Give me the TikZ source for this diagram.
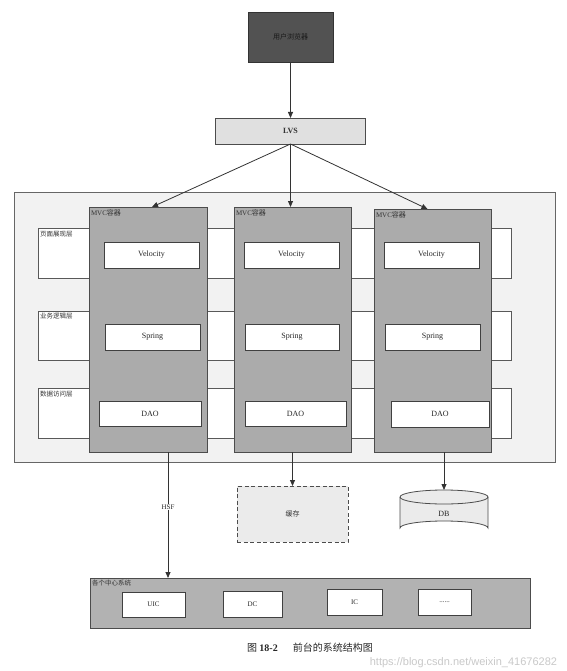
\documentclass[tikz,border=0pt]{standalone}
\usepackage{fontspec}
\setmainfont{Liberation Serif}
\newfontfamily\cjk{Noto Sans CJK SC}
\newfontfamily\wmfont{Liberation Sans}
\usetikzlibrary{arrows.meta,calc}
\begin{document}
\begin{tikzpicture}[x=1pt,y=-1pt,
  every node/.style={inner sep=0pt,outer sep=0pt},
  arr/.style={draw=black!80,line width=0.8pt,-{Triangle[length=6pt,width=5pt]}},
  whitebox/.style={draw=black!75,line width=0.8pt,fill=white,font=\fontsize{8}{9}\selectfont,text=black!85},
  layerbox/.style={draw=black!65,line width=0.7pt,fill=white},
  mvcbox/.style={draw=black!70,line width=0.8pt,fill=black!33},
  lbl/.style={font=\cjk\fontsize{6.5}{7}\selectfont,text=black!80,anchor=north west}
]
\useasboundingbox (0,0) rectangle (566,671);
\fill[white] (0,0) rectangle (566,671);

% top
\node[draw=black!80,line width=0.8pt,fill=black!68,minimum width=85pt,minimum height=50pt,font=\cjk\fontsize{7}{8}\selectfont,text=black!90] (browser) at (290.5,37) {用户浏览器};
\node[draw=black!70,line width=0.8pt,fill=black!12,minimum width=150pt,minimum height=26pt,font=\fontsize{8}{9}\selectfont\bfseries,text=black!80] (lvs) at (290.5,131) {LVS};
\draw[arr] (browser.south) -- (lvs.north);

% outer container
\node[draw=black!60,line width=0.8pt,fill=black!5,minimum width=541pt,minimum height=270pt] (outer) at (284.5,327) {};

% layer boxes
\node[layerbox,minimum width=473pt,minimum height=50pt] (layer1) at (274.5,253) {};
\node[layerbox,minimum width=473pt,minimum height=49pt] (layer2) at (274.5,335.5) {};
\node[layerbox,minimum width=473pt,minimum height=50pt] (layer3) at (274.5,413) {};
\node[lbl] (l1) at (40,231) {页面展现层};
\node[lbl] (l2) at (40,313) {业务逻辑层};
\node[lbl] (l3) at (40,391) {数据访问层};

% MVC containers
\node[mvcbox,minimum width=118pt,minimum height=245pt] (mvc1) at (148,329.5) {};
\node[mvcbox,minimum width=117pt,minimum height=245pt] (mvc2) at (292.5,329.5) {};
\node[mvcbox,minimum width=117pt,minimum height=243pt] (mvc3) at (432.5,330.5) {};
\node[lbl,font=\fontsize{7}{8}\selectfont] (m1) at ($(mvc1.north west)+(2,3)$) {MVC{\cjk 容器}};
\node[lbl,font=\fontsize{7}{8}\selectfont] (m2) at ($(mvc2.north west)+(2,3)$) {MVC{\cjk 容器}};
\node[lbl,font=\fontsize{7}{8}\selectfont] (m3) at ($(mvc3.north west)+(2,3)$) {MVC{\cjk 容器}};

\node[whitebox,minimum width=95pt,minimum height=26pt] (v1) at (151.5,255) {Velocity};
\node[whitebox,minimum width=95pt,minimum height=26pt] (s1) at (152.5,337) {Spring};
\node[whitebox,minimum width=102pt,minimum height=25pt] (d1) at (150,413.5) {DAO};
\node[whitebox,minimum width=95pt,minimum height=26pt] (v2) at (291.5,255) {Velocity};
\node[whitebox,minimum width=94pt,minimum height=26pt] (s2) at (292,337) {Spring};
\node[whitebox,minimum width=101pt,minimum height=25pt] (d2) at (295.5,413.5) {DAO};
\node[whitebox,minimum width=95pt,minimum height=26pt] (v3) at (431.5,255) {Velocity};
\node[whitebox,minimum width=95pt,minimum height=26pt] (s3) at (432.5,337) {Spring};
\node[whitebox,minimum width=98pt,minimum height=26pt] (d3) at (440,414) {DAO};

% arrows from LVS
\draw[arr] (lvs.south) -- ($(mvc1.north)+(4,0)$);
\draw[arr] (lvs.south) -- (lvs.south |- mvc2.north);
\draw[arr] (lvs.south) -- ($(mvc3.north)+(-5,0)$);

% cache and DB
\node[draw=black!70,line width=0.9pt,dash pattern=on 4pt off 2.5pt,fill=black!8,minimum width=111pt,minimum height=56pt,font=\cjk\fontsize{7}{8}\selectfont,text=black!80] (cache) at (292.5,514) {缓存};
\fill[black!8] (400,497) -- (400,528) arc[start angle=180,end angle=360,x radius=44pt,y radius=-7pt] -- (488,497) arc[start angle=0,end angle=180,x radius=44pt,y radius=7pt] -- cycle;
\draw[black!70,line width=0.8pt] (400,497) -- (400,528) arc[start angle=180,end angle=360,x radius=44pt,y radius=-7pt] -- (488,497);
\draw[black!70,line width=0.8pt] (444,497) ellipse[x radius=44pt,y radius=7pt];
\node[font=\fontsize{8}{9}\selectfont,text=black!85] (db) at (444,514) {DB};
\coordinate (dbtop) at (444,490);

\draw[arr] (mvc2.south) -- (cache.north);
\draw[arr] (dbtop |- mvc3.south) -- (dbtop);

% bottom systems
\node[draw=black!70,line width=0.8pt,fill=black!30,minimum width=440pt,minimum height=50pt] (centers) at (310,603) {};
\node[lbl] (cl) at (92,580) {各个中心系统};
\node[whitebox,minimum width=63pt,minimum height=25pt,font=\fontsize{7}{8}\selectfont] (uic) at (153.5,604.5) {UIC};
\node[whitebox,minimum width=59pt,minimum height=26pt,font=\fontsize{7}{8}\selectfont] (dc) at (252.5,604) {DC};
\node[whitebox,minimum width=55pt,minimum height=26pt,font=\fontsize{7}{8}\selectfont] (ic) at (354.5,602) {IC};
\node[whitebox,minimum width=53pt,minimum height=26pt,font=\fontsize{7}{8}\selectfont] (dots) at (444.5,602) {......};

\coordinate (hsftop) at ($(mvc1.south)+(20,0)$);
\draw[arr] (hsftop) -- (hsftop |- centers.north);
\node[fill=white,inner sep=1pt,font=\fontsize{7}{8}\selectfont,text=black!85] (hsf) at (168,507) {HSF};

% caption
\node[font=\cjk\fontsize{10}{12}\selectfont,text=black!85] (cap) at (310,648) {图 {\rmfamily\bfseries 18-2}\hspace{1.5em}前台的系统结构图};
\node[font=\wmfont\fontsize{11}{13}\selectfont,text=black!30,opacity=0.7,anchor=east] (wm) at (557,663) {https://blog.csdn.net/weixin\_41676282};
\end{tikzpicture}
\end{document}
